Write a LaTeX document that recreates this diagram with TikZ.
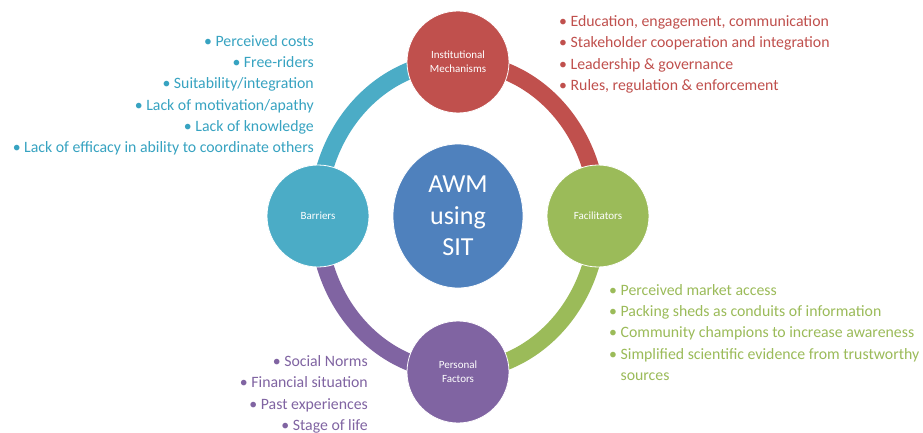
\documentclass[tikz,border=0pt]{standalone}
\usepackage{fontspec}
\setmainfont{Carlito}
\usetikzlibrary{shapes.geometric,backgrounds}
\definecolor{cred}{HTML}{C0504D}
\definecolor{cteal}{HTML}{4BACC6}
\definecolor{ctealtext}{HTML}{37A3C1}
\definecolor{cgreen}{HTML}{9BBB59}
\definecolor{cpurple}{HTML}{8064A2}
\definecolor{cblue}{HTML}{4F81BD}
\tikzset{
  smallnode/.style={circle, minimum size=102pt, inner sep=0pt, draw=white, line width=0.8pt,
    text=white, align=center, font=\fontsize{11}{14}\selectfont},
  bignode/.style={ellipse, minimum width=130pt, minimum height=144pt, inner sep=0pt, draw=white,
    line width=0.8pt, fill=cblue, text=white, align=center, font=\fontsize{26}{31.5}\selectfont},
  ring/.style={line width=17pt, draw=#1},
  itemlist/.style={inner sep=0pt, font=\fontsize{15.8}{21.3}\selectfont}
}
\begin{document}
\begin{tikzpicture}[x=1pt,y=-1pt]
\useasboundingbox (0,0) rectangle (923,433);
\node[bignode] (awm) at (458,216) {AWM\\using\\SIT};
\node[smallnode, fill=cred] (inst) at (458,62) {Institutional\\Mechanisms};
\node[smallnode, fill=cgreen] (fac) at (598,216) {Facilitators};
\node[smallnode, fill=cpurple] (pers) at (458,372) {Personal\\Factors};
\node[smallnode, fill=cteal] (bar) at (318,216) {Barriers};
\begin{scope}[on background layer]
\fill[white] (0,0) rectangle (923,433);
\draw[ring=cred] (inst.center) arc[start angle=-90, end angle=0, x radius=140, y radius=155];
\draw[ring=cgreen] (fac.center) arc[start angle=0, end angle=90, x radius=140, y radius=155];
\draw[ring=cpurple] (pers.center) arc[start angle=90, end angle=180, x radius=140, y radius=155];
\draw[ring=cteal] (bar.center) arc[start angle=180, end angle=270, x radius=140, y radius=155];
\end{scope}
\node[itemlist, text=ctealtext, anchor=north east, align=right] (barlist) at (314,35)
  {\textbullet\ Perceived costs\\
   \textbullet\ Free-riders\\
   \textbullet\ Suitability/integration\\
   \textbullet\ Lack of motivation/apathy\\
   \textbullet\ Lack of knowledge\\
   \textbullet\ Lack of efficacy in ability to coordinate others};
\node[itemlist, text=cred, anchor=north west, align=left] (instlist) at (559,15.5)
  {\textbullet\ Education, engagement, communication\\
   \textbullet\ Stakeholder cooperation and integration\\
   \textbullet\ Leadership \& governance\\
   \textbullet\ Rules, regulation \& enforcement};
\node[itemlist, text=cgreen, anchor=north west, align=left] (faclist) at (609,284)
  {\textbullet\ Perceived market access\\
   \textbullet\ Packing sheds as conduits of information\\
   \textbullet\ Community champions to increase awareness\\
   \textbullet\ Simplified scientific evidence from trustworthy\\
   \phantom{\textbullet\ }sources};
\node[itemlist, text=cpurple, anchor=north east, align=right] (perslist) at (368,355.5)
  {\textbullet\ Social Norms\\
   \textbullet\ Financial situation\\
   \textbullet\ Past experiences\\
   \textbullet\ Stage of life};
\end{tikzpicture}
\end{document}
